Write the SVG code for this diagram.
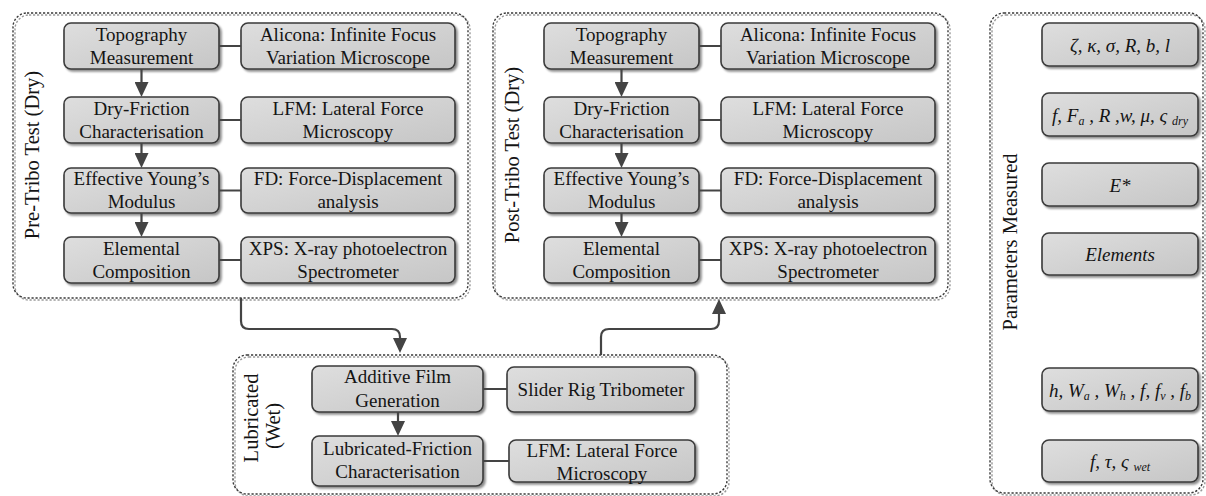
<svg xmlns="http://www.w3.org/2000/svg" width="1206" height="496" viewBox="0 0 1206 496">
<style>
text{font-family:"Liberation Serif","Times New Roman",serif;fill:#141414}
.t{font-size:19px;text-anchor:middle}
.p{font-size:19px;text-anchor:middle;font-style:italic}
.s{font-size:12px}
.lab{font-size:20.5px;text-anchor:middle}
.box{fill:url(#g);stroke:#3a3a3a;stroke-width:1.6;filter:url(#sh)}
.cont{fill:none;stroke:#3a3a3a;stroke-width:1.4;stroke-dasharray:2.2 1.8;filter:url(#sh2)}
.ln{fill:none;stroke:#444;stroke-width:2}
.ar{fill:none;stroke:#444;stroke-width:2.2;marker-end:url(#ah)}
</style>
<defs>
<linearGradient id="g" x1="0" y1="0" x2="1" y2="1">
<stop offset="0" stop-color="#dedede"/>
<stop offset="1" stop-color="#c6c6c6"/>
</linearGradient>
<filter id="sh" x="-10%" y="-20%" width="130%" height="150%">
<feDropShadow dx="2" dy="2" stdDeviation="0.8" flood-color="#000" flood-opacity="0.45"/>
</filter>
<filter id="sh2" x="-5%" y="-5%" width="110%" height="110%">
<feDropShadow dx="2" dy="2" stdDeviation="0.6" flood-color="#000" flood-opacity="0.4"/>
</filter>
<marker id="ah" viewBox="0 0 15 14" refX="5" refY="7" markerWidth="15" markerHeight="14" markerUnits="userSpaceOnUse" orient="auto">
<path d="M0,0 L15,7 L0,14 z" fill="#444"/>
</marker>
</defs>

<g id="pre-tribo">
<rect class="cont" x="13" y="13" width="455" height="285" rx="14"/>
<text class="lab" transform="translate(39,155) rotate(-90)">Pre-Tribo Test (Dry)</text>
</g>
<g id="pre-topography"><rect class="box" x="64" y="23" width="155" height="46" rx="7"/><text class="t" x="141.5" y="40.5">Topography</text><text class="t" x="141.5" y="63.5">Measurement</text></g>
<g id="pre-alicona"><rect class="box" x="241" y="23" width="214" height="46" rx="7"/><text class="t" x="348" y="40.5">Alicona: Infinite Focus</text><text class="t" x="348" y="63.5">Variation Microscope</text></g>
<g id="pre-dryfriction"><rect class="box" x="64" y="97" width="155" height="46" rx="7"/><text class="t" x="141.5" y="114.5">Dry-Friction</text><text class="t" x="141.5" y="137.5">Characterisation</text></g>
<g id="pre-lfm"><rect class="box" x="241" y="97" width="214" height="46" rx="7"/><text class="t" x="348" y="114.5">LFM: Lateral Force</text><text class="t" x="348" y="137.5">Microscopy</text></g>
<g id="pre-young"><rect class="box" x="64" y="168" width="155" height="45" rx="7"/><text class="t" x="141.5" y="185">Effective Young’s</text><text class="t" x="141.5" y="208">Modulus</text></g>
<g id="pre-fd"><rect class="box" x="241" y="168" width="214" height="45" rx="7"/><text class="t" x="348" y="185">FD: Force-Displacement</text><text class="t" x="348" y="208">analysis</text></g>
<g id="pre-elemental"><rect class="box" x="64" y="237" width="155" height="46" rx="7"/><text class="t" x="141.5" y="254.5">Elemental</text><text class="t" x="141.5" y="277.5">Composition</text></g>
<g id="pre-xps"><rect class="box" x="241" y="237" width="214" height="46" rx="7"/><text class="t" x="348" y="254.5">XPS: X-ray photoelectron</text><text class="t" x="348" y="277.5">Spectrometer</text></g>

<g id="post-tribo">
<rect class="cont" x="493" y="13" width="455" height="285" rx="14"/>
<text class="lab" transform="translate(519,155) rotate(-90)">Post-Tribo Test (Dry)</text>
</g>
<g id="post-topography"><rect class="box" x="544" y="23" width="155" height="46" rx="7"/><text class="t" x="621.5" y="40.5">Topography</text><text class="t" x="621.5" y="63.5">Measurement</text></g>
<g id="post-alicona"><rect class="box" x="721" y="23" width="214" height="46" rx="7"/><text class="t" x="828" y="40.5">Alicona: Infinite Focus</text><text class="t" x="828" y="63.5">Variation Microscope</text></g>
<g id="post-dryfriction"><rect class="box" x="544" y="97" width="155" height="46" rx="7"/><text class="t" x="621.5" y="114.5">Dry-Friction</text><text class="t" x="621.5" y="137.5">Characterisation</text></g>
<g id="post-lfm"><rect class="box" x="721" y="97" width="214" height="46" rx="7"/><text class="t" x="828" y="114.5">LFM: Lateral Force</text><text class="t" x="828" y="137.5">Microscopy</text></g>
<g id="post-young"><rect class="box" x="544" y="168" width="155" height="45" rx="7"/><text class="t" x="621.5" y="185">Effective Young’s</text><text class="t" x="621.5" y="208">Modulus</text></g>
<g id="post-fd"><rect class="box" x="721" y="168" width="214" height="45" rx="7"/><text class="t" x="828" y="185">FD: Force-Displacement</text><text class="t" x="828" y="208">analysis</text></g>
<g id="post-elemental"><rect class="box" x="544" y="237" width="155" height="46" rx="7"/><text class="t" x="621.5" y="254.5">Elemental</text><text class="t" x="621.5" y="277.5">Composition</text></g>
<g id="post-xps"><rect class="box" x="721" y="237" width="214" height="46" rx="7"/><text class="t" x="828" y="254.5">XPS: X-ray photoelectron</text><text class="t" x="828" y="277.5">Spectrometer</text></g>

<g id="lubricated">
<rect class="cont" x="233" y="355" width="494" height="139" rx="14"/>
<text class="lab" transform="translate(258,418) rotate(-90)">Lubricated</text>
<text class="lab" transform="translate(280,426) rotate(-90)">(Wet)</text>
</g>
<g id="lub-additive"><rect class="box" x="312" y="366" width="171" height="46" rx="7"/><text class="t" x="397.5" y="383">Additive Film</text><text class="t" x="397.5" y="406.5">Generation</text></g>
<g id="lub-slider"><rect class="box" x="507" y="367" width="188" height="45" rx="7"/><text class="t" x="601" y="396">Slider Rig Tribometer</text></g>
<g id="lub-friction"><rect class="box" x="312" y="436" width="171" height="50" rx="7"/><text class="t" x="397.5" y="455">Lubricated-Friction</text><text class="t" x="397.5" y="478">Characterisation</text></g>
<g id="lub-lfm"><rect class="box" x="509" y="440" width="186" height="42" rx="7"/><text class="t" x="602" y="456.5">LFM: Lateral Force</text><text class="t" x="602" y="480">Microscopy</text></g>

<g id="parameters">
<rect class="cont" x="990" y="13" width="213" height="480" rx="14"/>
<text class="lab" transform="translate(1017,242) rotate(-90)">Parameters Measured</text>
</g>
<g id="param-topography"><rect class="box" x="1042" y="23" width="156" height="43" rx="7"/><text class="p" x="1120" y="51.5">ζ, κ, σ, R, b, l</text></g>
<g id="param-dry"><rect class="box" x="1042" y="93" width="156" height="43" rx="7"/><text class="p" x="1120" y="121.5">f, F<tspan class="s" dy="3">a</tspan><tspan dy="-3"> , R ,w, μ, ς </tspan><tspan class="s" dy="3">dry</tspan></text></g>
<g id="param-young"><rect class="box" x="1042" y="163" width="156" height="43" rx="7"/><text class="p" x="1120" y="191.5">E*</text></g>
<g id="param-elements"><rect class="box" x="1042" y="233" width="156" height="42" rx="7"/><text class="p" x="1120" y="261">Elements</text></g>
<g id="param-film"><rect class="box" x="1042" y="368" width="156" height="43" rx="7"/><text class="p" x="1120" y="396.5">h, W<tspan class="s" dy="3">a</tspan><tspan dy="-3"> , W</tspan><tspan class="s" dy="3">h</tspan><tspan dy="-3"> , f, f</tspan><tspan class="s" dy="3">v</tspan><tspan dy="-3"> , f</tspan><tspan class="s" dy="3">b</tspan></text></g>
<g id="param-wet"><rect class="box" x="1042" y="440" width="156" height="42" rx="7"/><text class="p" x="1120" y="468">f,  τ, ς <tspan class="s" dy="3">wet</tspan></text></g>

<g id="connectors">
<path class="ln" d="M219,46 H241 M219,120 H241 M219,190.5 H241 M219,260 H241"/>
<path class="ln" d="M699,46 H721 M699,120 H721 M699,190.5 H721 M699,260 H721"/>
<path class="ln" d="M483,389 H507 M483,461 H509"/>
<path class="ar" d="M141.5,69 V87"/>
<path class="ar" d="M141.5,143 V158"/>
<path class="ar" d="M141.5,213 V227"/>
<path class="ar" d="M621.5,69 V87"/>
<path class="ar" d="M621.5,143 V158"/>
<path class="ar" d="M621.5,213 V227"/>
<path class="ar" d="M398,412 V426"/>
<path class="ar" d="M241,298 V321 Q241,329 249,329 H392 Q400,329 400,337 V343"/>
<path class="ar" d="M601,355 V337 Q601,329 609,329 H711 Q719,329 719,321 V309"/>
</g>
</svg>
